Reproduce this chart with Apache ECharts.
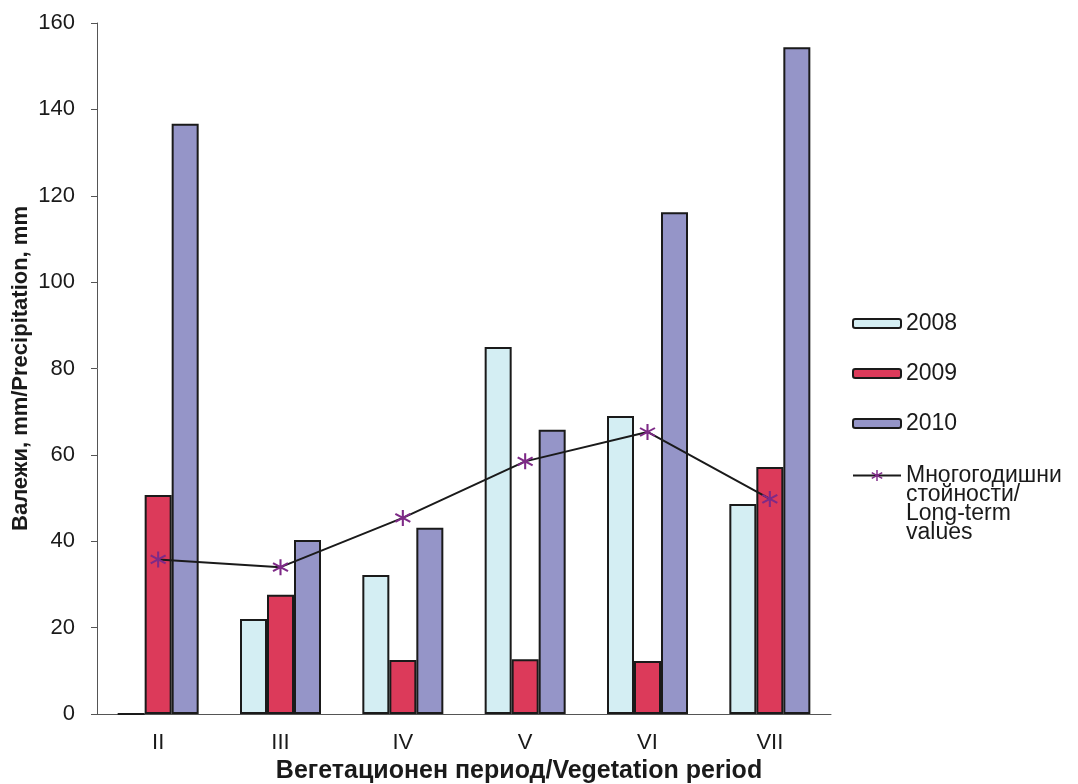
<!DOCTYPE html>
<html><head><meta charset="utf-8">
<script src="https://cdn.jsdelivr.net/npm/echarts@6/dist/echarts.min.js"></script>
<style>html,body{margin:0;padding:0;background:#fff}#c{width:1078px;height:784px}</style>
</head><body><div id="c"></div>
<script>
const categories = ['II','III','IV','V','VI','VII'];
const s2008 = [0, 22.0, 32.2, 85.0, 69.0, 48.6];
const s2009 = [50.7, 27.6, 12.5, 12.7, 12.3, 57.2];
const s2010 = [136.7, 40.3, 43.1, 65.8, 116.2, 154.4];
const longTerm = [35.8, 34.0, 45.4, 58.5, 65.3, 49.8];
const yTicks = {min:0, max:160, interval:20};
const lineName = 'Многогодишни\nстойности/\nLong-term\nvalues';

const star = 'path://M-1.2,-10 L1.2,-10 L1.2,10 L-1.2,10 Z M-9.26,-3.96 L-8.06,-6.04 L9.26,3.96 L8.06,6.04 Z M8.06,-6.04 L9.26,-3.96 L-8.06,6.04 L-9.26,3.96 Z';
const font = 'Liberation Sans, Arial, sans-serif';
const chart = echarts.init(document.getElementById('c'));
const barStyle = c => ({color:c, borderColor:'#1a1a1a', borderWidth:2});
chart.setOption({
  animation:false,
  textStyle:{fontFamily:font},
  grid:{left:97, right:247, top:23, bottom:70, containLabel:false, outerBoundsMode:'none'},
  legend:[{
    orient:'vertical', left:852, top:312, padding:0, itemWidth:48, itemHeight:9, itemGap:27,
    data:['2008','2009','2010'],
    textStyle:{fontSize:23, lineHeight:23, color:'#1a1a1a', fontFamily:font}
  },{
    orient:'vertical', left:852, top:407, padding:0, itemWidth:48, itemHeight:14,
    data:[lineName],
    formatter: n => '\n\n\n' + n,
    textStyle:{fontSize:23, lineHeight:19, color:'#1a1a1a', fontFamily:font}
  }],
  xAxis:{
    type:'category', data:categories,
    axisLine:{lineStyle:{color:'#555', width:1}},
    axisTick:{length:6, lineStyle:{color:'#555'}},
    axisLabel:{fontSize:22, color:'#1a1a1a', margin:18, fontFamily:font},
    name:'Вегетационен период/Vegetation period', nameLocation:'middle', nameGap:45,
    nameMoveOverlap:false,
    nameTextStyle:{fontSize:25, fontWeight:'bold', color:'#1a1a1a', fontFamily:font, padding:[0,0,0,110]}
  },
  yAxis:{
    type:'value', min:yTicks.min, max:yTicks.max, interval:yTicks.interval,
    splitLine:{show:false},
    axisLine:{show:true, lineStyle:{color:'#555', width:1}},
    axisTick:{show:true, length:6, lineStyle:{color:'#555'}},
    axisLabel:{fontSize:22, color:'#1a1a1a', margin:22, fontFamily:font},
    name:'Валежи, mm/Precipitation, mm', nameLocation:'middle', nameGap:65,
    nameMoveOverlap:false,
    nameTextStyle:{fontSize:22, fontWeight:'bold', color:'#1a1a1a', fontFamily:font}
  },
  series:[
    {name:'2008', type:'bar', data:s2008, barWidth:27, barGap:'0%', itemStyle:barStyle('#D4EEF3')},
    {name:'2009', type:'bar', data:s2009, barWidth:27, barGap:'0%', itemStyle:barStyle('#DC3A5A')},
    {name:'2010', type:'bar', data:s2010, barWidth:27, barGap:'0%', itemStyle:barStyle('#9595C8')},
    {name:lineName, type:'line', data:longTerm, z:5, symbol:star, symbolSize:16,
     itemStyle:{color:'#7E2A87'}, lineStyle:{color:'#1a1a1a', width:2}}
  ]
});
</script></body></html>
